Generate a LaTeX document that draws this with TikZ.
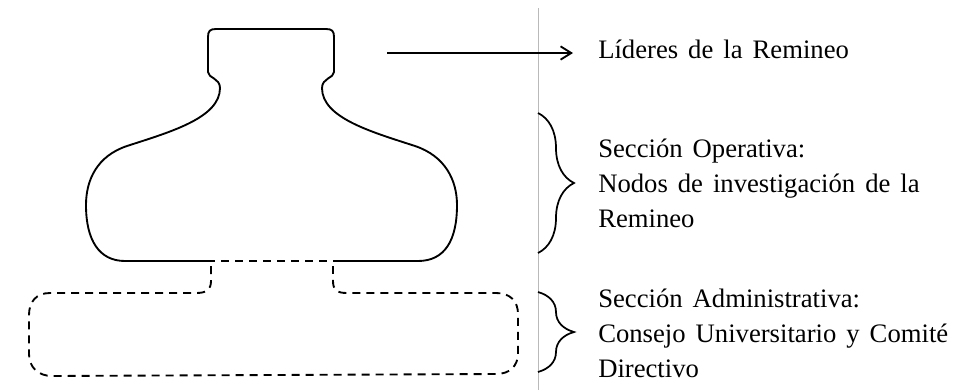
\documentclass[tikz,border=0pt]{standalone}
\usepackage{fontspec}
\setmainfont{Liberation Serif}[WordSpace=1.5]
\usepackage{tikz}
\usetikzlibrary{arrows.meta, positioning, decorations.pathreplacing}

\begin{document}
\begin{tikzpicture}[x=0.75pt, y=-0.75pt,
    outline/.style={line width=1.4pt, line join=round},
    dashline/.style={line width=1.4pt, dash pattern=on 6pt off 4.5pt},
    bracebox/.style={line width=1.3pt, decorate, decoration={brace, amplitude=27pt}},
    lbl/.style={anchor=base west, inner sep=0pt, align=left, font=\fontsize{20}{26}\selectfont}]
        \useasboundingbox (0,0) rectangle (958,390);
        % upper part
        \draw[outline] (207,261) -- (125,261) .. controls (99,261) and (86,240) .. (86,205)
            .. controls (86,180) and (97,156) .. (127,146) .. controls (170,132) and (220,118) .. (220,88)
            .. controls (220,78) and (208,78) .. (208,72) -- (208,37) .. controls (208,31) and (210,29) .. (216,29)
            -- (326,29) .. controls (332,29) and (334,31) .. (334,37) -- (334,72)
            .. controls (334,78) and (322,78) .. (322,88) .. controls (322,118) and (372,132) .. (415,146)
            .. controls (445,156) and (457,180) .. (457,205) .. controls (457,240) and (445,261) .. (418,261) -- (337,261);
        % lower part
        \draw[dashline] (207,261) -- (337,261);
        \draw[dashline] (211,266) -- (211,281) .. controls (211,290) and (206,293) .. (196,293) -- (50,293)
            .. controls (36,293) and (29,302) .. (29,315) -- (29,354) .. controls (29,367) and (38,376) .. (52,376)
            -- (496,374) .. controls (510,374) and (518,366) .. (518,353) -- (518,314)
            .. controls (518,301) and (510,293) .. (496,293) -- (347,293)
            .. controls (337,293) and (333,290) .. (333,281) -- (333,266);
        \draw[gray!55, line width=0.7pt] (538,8) -- (538,390);
        % labels (base = last line)
        \node[lbl] (lider) at (598,58) {Líderes de la Remineo};
        \node[lbl] (oper) at (598,227) {Sección Operativa:\\Nodos de investigación de la\\Remineo};
        \node[lbl] (admin) at (598,377) {Sección Administrativa:\\Consejo Universitario y Comité\\Directivo};
        \coordinate (lidstart) at (387,53);
        \draw[-{Straight Barb[length=8pt, width=10pt]}, line width=1.4pt, shorten >=18.75pt] (lidstart) -- (lidstart -| lider.west);
        \draw[bracebox] (538,113) -- (538,253);
        \draw[bracebox] (538,292) -- (538,372);
    \end{tikzpicture}
\end{document}
